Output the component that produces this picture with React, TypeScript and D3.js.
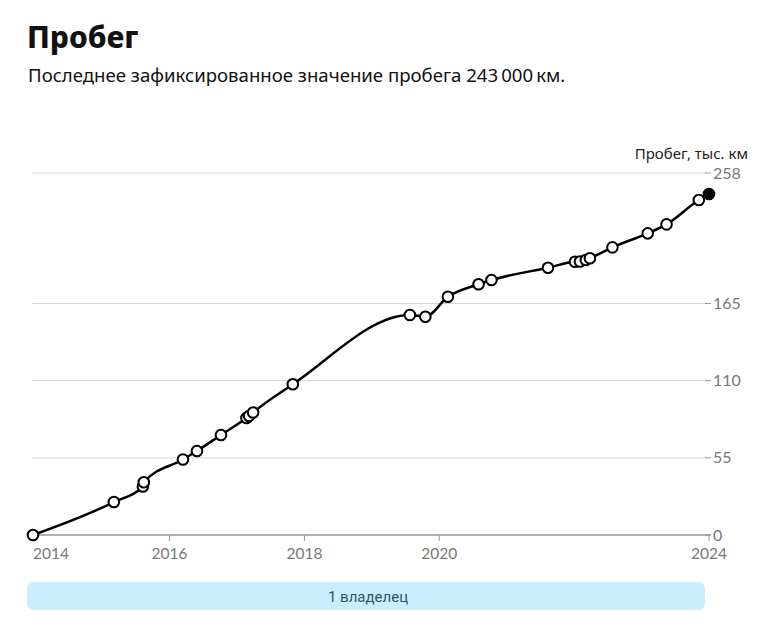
import React from "react";
import * as d3 from "d3";

const dates: string[] = [
  "2013-12-23", "2015-03-06", "2015-08-10", "2015-08-15", "2016-03-14", "2016-05-29",
  "2016-10-06", "2017-02-21", "2017-03-07", "2017-03-29", "2017-10-30", "2019-07-26",
  "2019-10-18", "2020-02-17", "2020-08-01", "2020-10-10", "2021-08-12", "2022-01-05",
  "2022-02-01", "2022-03-05", "2022-03-27", "2022-07-27", "2023-02-03", "2023-05-16",
  "2023-11-07", "2024-01-01",
];
const mileage: number[] = [
  0, 23.5, 34.6, 37.6, 53.8, 59.9, 71.3, 83.4, 84.8, 87.3, 107.4, 156.8, 155.6, 169.8,
  178.7, 181.7, 190.5, 194.8, 194.9, 196.0, 197.2, 205.0, 215.0, 221.4, 238.8, 243.0,
];
const yTicks: number[] = [0, 55, 110, 165, 258];
const xTickYears: number[] = [2014, 2016, 2018, 2020, 2024];

const title = "Пробег";
const subtitle = "Последнее зафиксированное значение пробега 243\u2009000\u2009км.";
const axisTitle = "Пробег, тыс. км";
const ownerLabel = "1 владелец";

export default function App() {
  const W = 760, H = 633;
  const parse = d3.timeParse("%Y-%m-%d");
  const data = dates.map((d, i) => ({ date: parse(d) as Date, value: mileage[i] }));
  const x = d3.scaleTime().domain([data[0].date, data[data.length - 1].date]).range([33, 709]);
  const y = d3.scaleLinear().domain([0, 258]).range([535, 173]);
  const line = d3.line<{ date: Date; value: number }>()
    .x((d) => x(d.date))
    .y((d) => y(d.value))
    .curve(d3.curveMonotoneX);
  const axisFont = "Lato, 'Open Sans', sans-serif";
  return (
    <svg width={W} height={H} style={{ position: "absolute", left: 0, top: 0, background: "#fff" }}>
      <text x={27} y={48} fontFamily="'Noto Sans', sans-serif" fontWeight={800} fontSize={30} fill="#111">{title}</text>
      <text x={28} y={82} fontFamily="'Noto Sans', sans-serif" fontSize={18.6} fill="#111">{subtitle}</text>

      {yTicks.filter((t) => t > 0).map((t) => (
        <line key={"g" + t} x1={32} x2={705} y1={y(t)} y2={y(t)} stroke="#d6d6d6" strokeWidth={1} />
      ))}
      {yTicks.map((t) => (
        <g key={"yt" + t}>
          <line x1={705} x2={711} y1={y(t)} y2={y(t)} stroke="#999" strokeWidth={1} />
          <text x={713} y={y(t) + 5.5} fontFamily={axisFont} fontSize={16} fill="#777">{t}</text>
        </g>
      ))}
      <text x={748} y={159} textAnchor="end" fontFamily="'Noto Sans', sans-serif" fontSize={15} fill="#222">{axisTitle}</text>

      <line x1={33} x2={711} y1={y(0)} y2={y(0)} stroke="#999" strokeWidth={1.5} />
      {xTickYears.map((yr, i) => {
        const xx = x(new Date(yr, 0, 1));
        return (
          <g key={"xt" + yr}>
            <line x1={xx} x2={xx} y1={y(0)} y2={y(0) + 6} stroke="#999" strokeWidth={1} />
            <text x={i === 0 ? 33 : xx} y={559} textAnchor={i === 0 ? "start" : "middle"} fontFamily={axisFont} fontSize={15.5} fill="#777">{yr}</text>
          </g>
        );
      })}

      <path d={line(data) || ""} fill="none" stroke="#000" strokeWidth={2.5} />
      {data.map((d, i) => (
        <circle key={"p" + i} cx={x(d.date)} cy={y(d.value)} r={5.3}
          fill={i === data.length - 1 ? "#000" : "#fff"} stroke="#000" strokeWidth={2} />
      ))}

      <rect x={27} y={582} width={678} height={28} rx={6} fill="#cdeefe" />
      <text x={368} y={601.5} textAnchor="middle" fontFamily="'Liberation Sans Narrow', 'Roboto', sans-serif" fontSize={15} fill="#2c5670">{ownerLabel}</text>
    </svg>
  );
}
